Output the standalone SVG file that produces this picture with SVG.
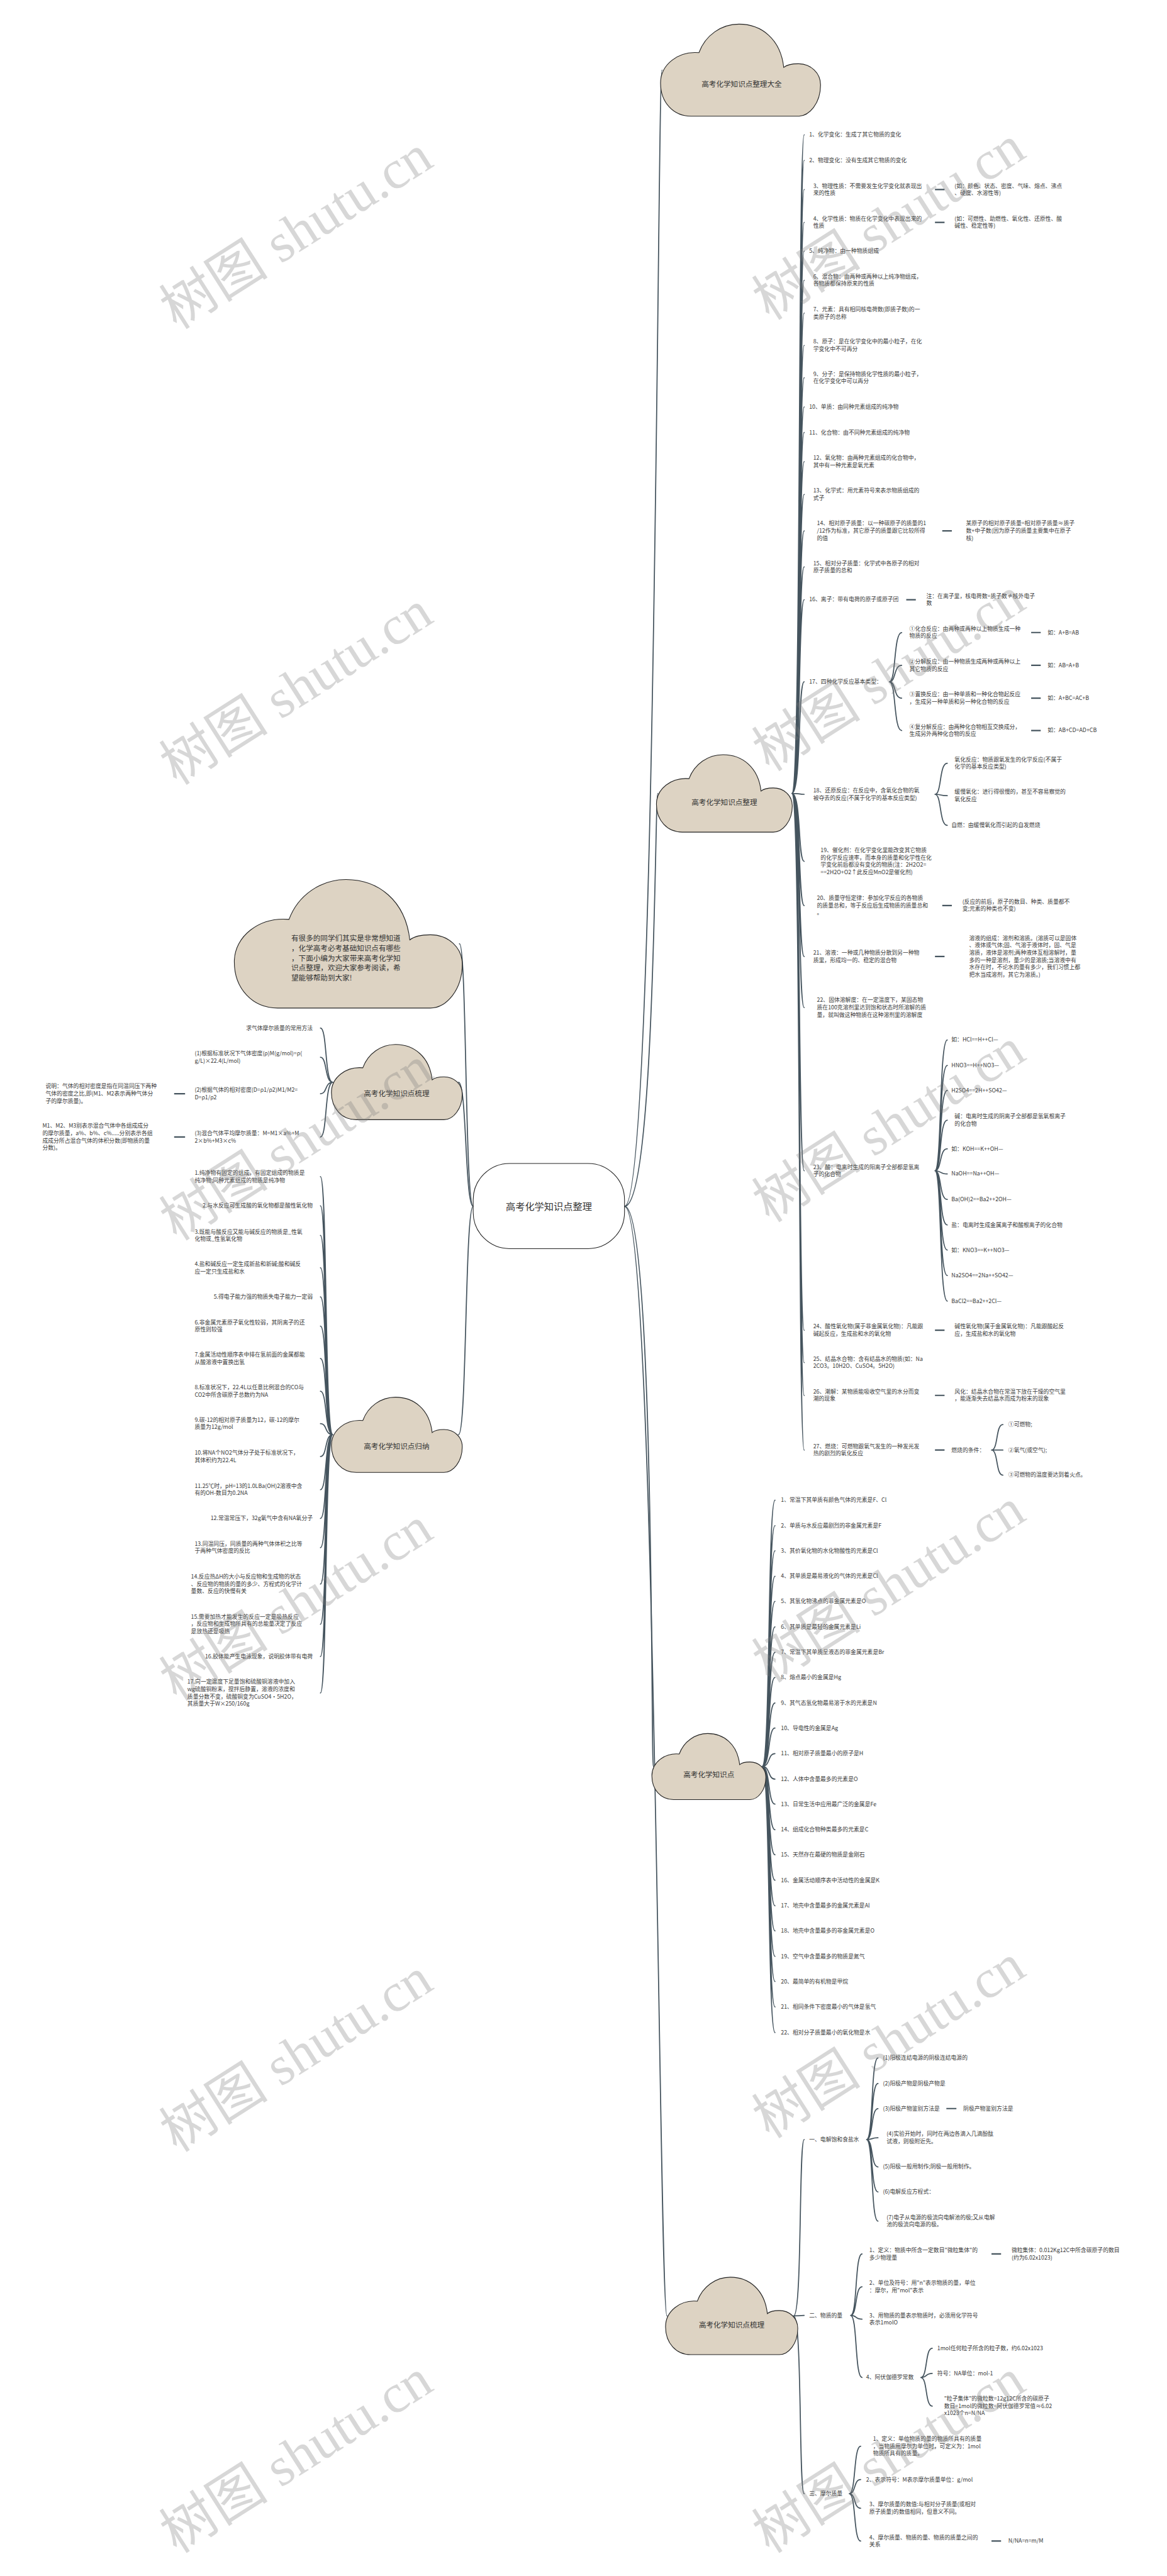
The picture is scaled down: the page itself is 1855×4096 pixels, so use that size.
<svg xmlns="http://www.w3.org/2000/svg" width="1855" height="4096" viewBox="0 0 1855 4096">
<defs>
<style>
.t{font-family:"Noto Sans CJK SC","Noto Sans",sans-serif;font-size:12.2px;fill:#3a3a3a}
.e{text-anchor:end}
.ct{font-family:"Noto Sans CJK SC","Noto Sans",sans-serif;font-size:16px;fill:#333;text-anchor:middle}
.ln{fill:none;stroke:#45545e;stroke-width:2.4;stroke-linecap:round}
.dl{fill:none;stroke:#45545e;stroke-width:3}
.wm{font-family:"Liberation Serif","Noto Sans CJK SC",serif;font-size:120px;fill:#7a7a7a;fill-opacity:.3;text-anchor:middle}
</style>
<path id="cl" d="M19,100 C8,100 0,85 0,64 C0,44 11,29 24,31 C28,12 38,0 49,0 C63,0 75,16 77,47 C79,44 82,43 86,43 C94,43 100,53 100,66 C100,86 93,100 86,100 Z" fill="#ddd3c3" stroke="#222" stroke-width="1.1" vector-effect="non-scaling-stroke"/>
</defs>
<rect width="1855" height="4096" fill="#fff"/>
<g transform="scale(0.72461)">
<g id="connectors">
<path class="ln" d="M1038,2647 C1020,2647 1024,2071 1008,2071"/>
<path class="ln" d="M1038,2647 C1020,2647 1024,2375 1006,2375"/>
<path class="ln" d="M1038,2647 C1020,2647 1024,3148 1006,3148"/>
<path class="ln" d="M1370,2647 C1440,2647 1442,154 1452,154"/>
<path class="ln" d="M1370,2647 C1438,2647 1436,1741 1443,1741"/>
<path class="ln" d="M1370,2647 C1436,2647 1428,3876 1433,3876"/>
<path class="ln" d="M1370,2647 C1440,2647 1445,5082 1463,5082"/>
<path class="ln" d="M1737,1741 C1758,1741 1750,296 1764,296 M1737,1741 C1758,1741 1750,352 1764,352 M1737,1741 C1758,1741 1750,416 1764,416 M1737,1741 C1758,1741 1750,488 1764,488 M1737,1741 C1758,1741 1750,551 1764,551 M1737,1741 C1758,1741 1750,615 1764,615 M1737,1741 C1758,1741 1750,687 1764,687 M1737,1741 C1758,1741 1750,758 1764,758 M1737,1741 C1758,1741 1750,829 1764,829 M1737,1741 C1758,1741 1750,893 1764,893 M1737,1741 C1758,1741 1750,949 1764,949 M1737,1741 C1758,1741 1750,1013 1764,1013 M1737,1741 C1758,1741 1750,1085 1764,1085 M1737,1741 C1758,1741 1750,1165 1764,1165 M1737,1741 C1758,1741 1750,1244 1764,1244 M1737,1741 C1758,1741 1750,1316 1764,1316 M1737,1741 C1758,1741 1750,1496 1764,1496 M1737,1741 C1758,1741 1750,1743 1764,1743 M1737,1741 C1758,1741 1750,1890 1764,1890 M1737,1741 C1758,1741 1750,1987 1764,1987 M1737,1741 C1758,1741 1750,2099 1764,2099 M1737,1741 C1758,1741 1750,2211 1764,2211 M1737,1741 C1758,1741 1750,2569 1764,2569 M1737,1741 C1758,1741 1750,2919 1764,2919 M1737,1741 C1758,1741 1750,2990 1764,2990 M1737,1741 C1758,1741 1750,3062 1764,3062 M1737,1741 C1758,1741 1750,3182 1764,3182"/>
<path class="ln" d="M1951,1496 C1966,1496 1960,1388 1978,1388 M1951,1496 C1966,1496 1960,1460 1978,1460 M1951,1496 C1966,1496 1960,1532 1978,1532 M1951,1496 C1966,1496 1960,1603 1978,1603"/>
<path class="ln" d="M2051,1743 C2066,1743 2060,1675 2078,1675 M2051,1743 C2066,1743 2060,1746 2078,1746 M2051,1743 C2066,1743 2060,1811 2078,1811"/>
<path class="ln" d="M2051,2569 C2066,2569 2060,2282 2078,2282 M2051,2569 C2066,2569 2060,2338 2078,2338 M2051,2569 C2066,2569 2060,2393 2078,2393 M2051,2569 C2066,2569 2060,2458 2078,2458 M2051,2569 C2066,2569 2060,2521 2078,2521 M2051,2569 C2066,2569 2060,2576 2078,2576 M2051,2569 C2066,2569 2060,2632 2078,2632 M2051,2569 C2066,2569 2060,2688 2078,2688 M2051,2569 C2066,2569 2060,2743 2078,2743 M2051,2569 C2066,2569 2060,2799 2078,2799 M2051,2569 C2066,2569 2060,2855 2078,2855"/>
<path class="ln" d="M2175,3182 C2190,3182 2184,3126 2200,3126 M2175,3182 L2200,3182 M2175,3182 C2190,3182 2184,3237 2200,3237"/>
<path class="dl" d="M2051,416 H2072 M2051,488 H2072 M2067,1165 H2088 M1988,1316 H2009 M2262,1388 H2283 M2262,1460 H2283 M2262,1532 H2283 M2262,1603 H2283 M2067,1987 H2088 M2051,2099 H2072 M2051,2919 H2072 M2051,3062 H2072 M2051,3182 H2072"/>
<path class="ln" d="M1672,3876 C1690,3876 1684,3292 1700,3292 M1672,3876 C1690,3876 1684,3348 1700,3348 M1672,3876 C1690,3876 1684,3403 1700,3403 M1672,3876 C1690,3876 1684,3459 1700,3459 M1672,3876 C1690,3876 1684,3514 1700,3514 M1672,3876 C1690,3876 1684,3570 1700,3570 M1672,3876 C1690,3876 1684,3626 1700,3626 M1672,3876 C1690,3876 1684,3681 1700,3681 M1672,3876 C1690,3876 1684,3737 1700,3737 M1672,3876 C1690,3876 1684,3792 1700,3792 M1672,3876 C1690,3876 1684,3848 1700,3848 M1672,3876 C1690,3876 1684,3904 1700,3904 M1672,3876 C1690,3876 1684,3959 1700,3959 M1672,3876 C1690,3876 1684,4015 1700,4015 M1672,3876 C1690,3876 1684,4070 1700,4070 M1672,3876 C1690,3876 1684,4126 1700,4126 M1672,3876 C1690,3876 1684,4182 1700,4182 M1672,3876 C1690,3876 1684,4237 1700,4237 M1672,3876 C1690,3876 1684,4293 1700,4293 M1672,3876 C1690,3876 1684,4348 1700,4348 M1672,3876 C1690,3876 1684,4404 1700,4404 M1672,3876 C1690,3876 1684,4460 1700,4460"/>
<path class="ln" d="M1741,5082 C1760,5082 1752,4695 1764,4695 M1741,5082 L1764,5081 M1741,5082 C1760,5082 1752,5472 1764,5472"/>
<path class="ln" d="M1901,4695 C1916,4695 1910,4516 1926,4516 M1901,4695 C1916,4695 1910,4572 1926,4572 M1901,4695 C1916,4695 1910,4627 1926,4627 M1901,4695 C1916,4695 1910,4691 1926,4691 M1901,4695 C1916,4695 1910,4755 1926,4755 M1901,4695 C1916,4695 1910,4810 1926,4810 M1901,4695 C1916,4695 1910,4874 1926,4874"/>
<path class="ln" d="M1866,5081 C1881,5081 1875,4946 1891,4946 M1866,5081 C1881,5081 1875,5018 1891,5018 M1866,5081 C1881,5081 1875,5089 1891,5089 M1866,5081 C1881,5081 1875,5217 1891,5217"/>
<path class="ln" d="M2020,5217 C2035,5217 2029,5153 2045,5153 M2020,5217 C2035,5217 2029,5208 2045,5208 M2020,5217 C2035,5217 2029,5280 2045,5280"/>
<path class="ln" d="M1863,5472 C1878,5472 1872,5368 1888,5368 M1863,5472 C1878,5472 1872,5441 1888,5441 M1863,5472 C1878,5472 1872,5504 1888,5504 M1863,5472 C1878,5472 1872,5576 1888,5576"/>
<path class="dl" d="M2076,4627 H2098 M2175,4946 H2196 M2175,5576 H2196"/>
<path class="ln" d="M730,2375 C712,2375 718,2256 703,2256 M730,2375 C712,2375 718,2320 703,2320 M730,2375 C712,2375 718,2400 703,2400 M730,2375 C712,2375 718,2495 703,2495"/>
<path class="dl" d="M382,2400 H406 M382,2495 H406"/>
<path class="ln" d="M730,3148 C712,3148 718,2582 703,2582 M730,3148 C712,3148 718,2646 703,2646 M730,3148 C712,3148 718,2711 703,2711 M730,3148 C712,3148 718,2782 703,2782 M730,3148 C712,3148 718,2846 703,2846 M730,3148 C712,3148 718,2910 703,2910 M730,3148 C712,3148 718,2981 703,2981 M730,3148 C712,3148 718,3053 703,3053 M730,3148 C712,3148 718,3124 703,3124 M730,3148 C712,3148 718,3196 703,3196 M730,3148 C712,3148 718,3269 703,3269 M730,3148 C712,3148 718,3332 703,3332 M730,3148 C712,3148 718,3396 703,3396 M730,3148 C712,3148 718,3476 703,3476 M730,3148 C712,3148 718,3564 703,3564 M730,3148 C712,3148 718,3635 703,3635 M730,3148 C712,3148 718,3715 703,3715"/>
</g>

<g id="center"><rect x="1038" y="2553" width="332" height="187" rx="80" fill="#fff" stroke="#222" stroke-width="1.5"/><text class="ct" x="1204" y="2655" style="font-size:21px">高考化学知识点整理</text></g>
<g id="cloud-top"><use href="#cl" transform="translate(1449,53) scale(3.51,2.02)"/><text class="ct" x="1627" y="190">高考化学知识点整理大全</text></g>
<g id="cloud-zl"><use href="#cl" transform="translate(1440,1656) scale(2.98,1.7)"/><text class="ct" x="1589" y="1767">高考化学知识点整理</text></g>
<g id="cloud-zsd"><use href="#cl" transform="translate(1430,3804) scale(2.5,1.45)"/><text class="ct" x="1555" y="3900">高考化学知识点</text></g>
<g id="cloud-sl2"><use href="#cl" transform="translate(1460,4997) scale(2.9,1.7)"/><text class="ct" x="1605" y="5108">高考化学知识点梳理</text></g>
<g id="cloud-intro"><use href="#cl" transform="translate(514,1930) scale(5,2.82)"/><text class="ct" style="text-anchor:start"><tspan x="639" y="2064">有很多的同学们其实是非常想知道</tspan><tspan x="639" y="2086">，化学高考必考基础知识点有哪些</tspan><tspan x="639" y="2109">，下面小编为大家带来高考化学知</tspan><tspan x="639" y="2130">识点整理，欢迎大家参考阅读，希</tspan><tspan x="639" y="2152">望能够帮助到大家!</tspan></text></g>
<g id="cloud-sl"><use href="#cl" transform="translate(727,2292) scale(2.87,1.65)"/><text class="ct" x="870" y="2406">高考化学知识点梳理</text></g>
<g id="cloud-gn"><use href="#cl" transform="translate(727,3066) scale(2.87,1.65)"/><text class="ct" x="870" y="3180">高考化学知识点归纳</text></g>

<g id="sec-a" class="t">
<text id="a1" x="1775" y="300">1、化学变化：生成了其它物质的变化</text>
<text id="a2" x="1775" y="356">2、物理变化：没有生成其它物质的变化</text>
<text id="a3"><tspan x="1784" y="412">3、物理性质：不需要发生化学变化就表现出</tspan><tspan x="1784" y="428">来的性质</tspan></text>
<text id="a3s"><tspan x="2094" y="412">(如：颜色、状态、密度、气味、熔点、沸点</tspan><tspan x="2094" y="428">、硬度、水溶性等)</tspan></text>
<text id="a4"><tspan x="1784" y="484">4、化学性质：物质在化学变化中表现出来的</tspan><tspan x="1784" y="500">性质</tspan></text>
<text id="a4s"><tspan x="2094" y="484">(如：可燃性、助燃性、氧化性、还原性、酸</tspan><tspan x="2094" y="500">碱性、稳定性等)</tspan></text>
<text id="a5" x="1775" y="555">5、纯净物：由一种物质组成</text>
<text id="a6"><tspan x="1784" y="611">6、混合物：由两种或两种以上纯净物组成，</tspan><tspan x="1784" y="627">各物质都保持原来的性质</tspan></text>
<text id="a7"><tspan x="1784" y="683">7、元素：具有相同核电荷数(即质子数)的一</tspan><tspan x="1784" y="699">类原子的总称</tspan></text>
<text id="a8"><tspan x="1784" y="754">8、原子：是在化学变化中的最小粒子，在化</tspan><tspan x="1784" y="770">学变化中不可再分</tspan></text>
<text id="a9"><tspan x="1784" y="825">9、分子：是保持物质化学性质的最小粒子，</tspan><tspan x="1784" y="841">在化学变化中可以再分</tspan></text>
<text id="a10" x="1775" y="897">10、单质：由同种元素组成的纯净物</text>
<text id="a11" x="1775" y="953">11、化合物：由不同种元素组成的纯净物</text>
<text id="a12"><tspan x="1784" y="1009">12、氧化物：由两种元素组成的化合物中，</tspan><tspan x="1784" y="1025">其中有一种元素是氧元素</tspan></text>
<text id="a13"><tspan x="1784" y="1081">13、化学式：用元素符号来表示物质组成的</tspan><tspan x="1784" y="1097">式子</tspan></text>
<text id="a14"><tspan x="1792" y="1153">14、相对原子质量：以一种碳原子的质量的1</tspan><tspan x="1792" y="1169">/12作为标准，其它原子的质量跟它比较所得</tspan><tspan x="1792" y="1185">的值</tspan></text>
<text id="a14s"><tspan x="2119" y="1153">某原子的相对原子质量=相对原子质量≈质子</tspan><tspan x="2119" y="1169">数+中子数(因为原子的质量主要集中在原子</tspan><tspan x="2119" y="1185">核)</tspan></text>
<text id="a15"><tspan x="1784" y="1240">15、相对分子质量：化学式中各原子的相对</tspan><tspan x="1784" y="1256">原子质量的总和</tspan></text>
<text id="a16" x="1775" y="1320">16、离子：带有电荷的原子或原子团</text>
<text id="a16s"><tspan x="2032" y="1312">注：在离子里，核电荷数=质子数≠核外电子</tspan><tspan x="2032" y="1328">数</tspan></text>
<text id="a17" x="1775" y="1500">17、四种化学反应基本类型：</text>
<text id="a17a"><tspan x="1995" y="1384">①化合反应：由两种或两种以上物质生成一种</tspan><tspan x="1995" y="1400">物质的反应</tspan></text>
<text id="a17b"><tspan x="1995" y="1456">②分解反应：由一种物质生成两种或两种以上</tspan><tspan x="1995" y="1472">其它物质的反应</tspan></text>
<text id="a17c"><tspan x="1995" y="1528">③置换反应：由一种单质和一种化合物起反应</tspan><tspan x="1995" y="1544">，生成另一种单质和另一种化合物的反应</tspan></text>
<text id="a17d"><tspan x="1995" y="1599">④复分解反应：由两种化合物相互交换成分，</tspan><tspan x="1995" y="1615">生成另外两种化合物的反应</tspan></text>
<text id="a17a1" x="2298" y="1392">如：A+B=AB</text>
<text id="a17b1" x="2298" y="1464">如：AB=A+B</text>
<text id="a17c1" x="2298" y="1536">如：A+BC=AC+B</text>
<text id="a17d1" x="2298" y="1607">如：AB+CD=AD+CB</text>
<text id="a18"><tspan x="1784" y="1739">18、还原反应：在反应中，含氧化合物的氧</tspan><tspan x="1784" y="1755">被夺去的反应(不属于化学的基本反应类型)</tspan></text>
<text id="a18a"><tspan x="2094" y="1671">氧化反应：物质跟氧发生的化学反应(不属于</tspan><tspan x="2094" y="1687">化学的基本反应类型)</tspan></text>
<text id="a18b"><tspan x="2094" y="1742">缓慢氧化：进行得很慢的，甚至不容易察觉的</tspan><tspan x="2094" y="1758">氧化反应</tspan></text>
<text id="a18c" x="2087" y="1815">自燃：由缓慢氧化而引起的自发燃烧</text>
<text id="a19"><tspan x="1800" y="1870">19、催化剂：在化学变化里能改变其它物质</tspan><tspan x="1800" y="1886">的化学反应速率，而本身的质量和化学性在化</tspan><tspan x="1800" y="1902">学变化前后都没有变化的物质(注：2H2O2=</tspan><tspan x="1800" y="1918">==2H2O+O2↑此反应MnO2是催化剂)</tspan></text>
<text id="a20"><tspan x="1792" y="1975">20、质量守恒定律：参加化学反应的各物质</tspan><tspan x="1792" y="1991">的质量总和，等于反应后生成物质的质量总和</tspan><tspan x="1792" y="2007">。</tspan></text>
<text id="a20s"><tspan x="2111" y="1983">(反应的前后，原子的数目、种类、质量都不</tspan><tspan x="2111" y="1999">变;元素的种类也不变)</tspan></text>
<text id="a21"><tspan x="1784" y="2095">21、溶液：一种或几种物质分散到另一种物</tspan><tspan x="1784" y="2111">质里，形成均一的、稳定的混合物</tspan></text>
<text id="a21s"><tspan x="2126" y="2063">溶液的组成：溶剂和溶质。(溶质可以是固体</tspan><tspan x="2126" y="2079">、液体或气体;固、气溶于液体时，固、气是</tspan><tspan x="2126" y="2095">溶质，液体是溶剂;两种液体互相溶解时，量</tspan><tspan x="2126" y="2111">多的一种是溶剂，量少的是溶质;当溶液中有</tspan><tspan x="2126" y="2127">水存在时，不论水的量有多少，我们习惯上都</tspan><tspan x="2126" y="2143">把水当成溶剂，其它为溶质。)</tspan></text>
<text id="a22"><tspan x="1792" y="2199">22、固体溶解度：在一定温度下，某固态物</tspan><tspan x="1792" y="2215">质在100克溶剂里达到饱和状态时所溶解的质</tspan><tspan x="1792" y="2231">量，就叫做这种物质在这种溶剂里的溶解度</tspan></text>
<text id="a23"><tspan x="1784" y="2565">23、酸：电离时生成的阳离子全部都是氢离</tspan><tspan x="1784" y="2581">子的化合物</tspan></text>
<text id="a23a" x="2087" y="2286">如：HCl==H++Cl—</text>
<text id="a23b" x="2087" y="2342">HNO3==H++NO3—</text>
<text id="a23c" x="2087" y="2397">H2SO4==2H++SO42—</text>
<text id="a23d"><tspan x="2094" y="2454">碱：电离时生成的阴离子全部都是氢氧根离子</tspan><tspan x="2094" y="2470">的化合物</tspan></text>
<text id="a23e" x="2087" y="2525">如：KOH==K++OH—</text>
<text id="a23f" x="2087" y="2580">NaOH==Na++OH—</text>
<text id="a23g" x="2087" y="2636">Ba(OH)2==Ba2++2OH—</text>
<text id="a23h" x="2087" y="2692">盐：电离时生成金属离子和酸根离子的化合物</text>
<text id="a23i" x="2087" y="2747">如：KNO3==K++NO3—</text>
<text id="a23j" x="2087" y="2803">Na2SO4==2Na++SO42—</text>
<text id="a23k" x="2087" y="2859">BaCl2==Ba2++2Cl—</text>
<text id="a24"><tspan x="1784" y="2915">24、酸性氧化物(属于非金属氧化物)：凡能跟</tspan><tspan x="1784" y="2931">碱起反应，生成盐和水的氧化物</tspan></text>
<text id="a24s"><tspan x="2094" y="2915">碱性氧化物(属于金属氧化物)：凡能跟酸起反</tspan><tspan x="2094" y="2931">应，生成盐和水的氧化物</tspan></text>
<text id="a25"><tspan x="1784" y="2986">25、结晶水合物：含有结晶水的物质(如：Na</tspan><tspan x="1784" y="3002">2CO3。10H2O、CuSO4。5H2O)</tspan></text>
<text id="a26"><tspan x="1784" y="3058">26、潮解：某物质能吸收空气里的水分而变</tspan><tspan x="1784" y="3074">潮的现象</tspan></text>
<text id="a26s"><tspan x="2094" y="3058">风化：结晶水合物在常温下放在干燥的空气里</tspan><tspan x="2094" y="3074">，能逐渐失去结晶水而成为粉末的现象</tspan></text>
<text id="a27"><tspan x="1784" y="3178">27、燃烧：可燃物跟氧气发生的一种发光发</tspan><tspan x="1784" y="3194">热的剧烈的氧化反应</tspan></text>
<text id="a27s" x="2087" y="3186">燃烧的条件：</text>
<text id="a27a" x="2212" y="3130">①可燃物;</text>
<text id="a27b" x="2212" y="3186">②氧气(或空气);</text>
<text id="a27c" x="2212" y="3241">③可燃物的温度要达到着火点。</text>
</g>

<g id="sec-b" class="t">
<text id="b1" x="1713" y="3296">1、常温下其单质有颜色气体的元素是F、Cl</text>
<text id="b2" x="1713" y="3352">2、单质与水反应最剧烈的非金属元素是F</text>
<text id="b3" x="1713" y="3407">3、其价氧化物的水化物酸性的元素是Cl</text>
<text id="b4" x="1713" y="3463">4、其单质是最易液化的气体的元素是Cl</text>
<text id="b5" x="1713" y="3518">5、其氢化物沸点的非金属元素是O</text>
<text id="b6" x="1713" y="3574">6、其单质是最轻的金属元素是Li</text>
<text id="b7" x="1713" y="3630">7、常温下其单质呈液态的非金属元素是Br</text>
<text id="b8" x="1713" y="3685">8、熔点最小的金属是Hg</text>
<text id="b9" x="1713" y="3741">9、其气态氢化物最易溶于水的元素是N</text>
<text id="b10" x="1713" y="3796">10、导电性的金属是Ag</text>
<text id="b11" x="1713" y="3852">11、相对原子质量最小的原子是H</text>
<text id="b12" x="1713" y="3908">12、人体中含量最多的元素是O</text>
<text id="b13" x="1713" y="3963">13、日常生活中应用最广泛的金属是Fe</text>
<text id="b14" x="1713" y="4019">14、组成化合物种类最多的元素是C</text>
<text id="b15" x="1713" y="4074">15、天然存在最硬的物质是金刚石</text>
<text id="b16" x="1713" y="4130">16、金属活动顺序表中活动性的金属是K</text>
<text id="b17" x="1713" y="4186">17、地壳中含量最多的金属元素是Al</text>
<text id="b18" x="1713" y="4241">18、地壳中含量最多的非金属元素是O</text>
<text id="b19" x="1713" y="4297">19、空气中含量最多的物质是氮气</text>
<text id="b20" x="1713" y="4352">20、最简单的有机物是甲烷</text>
<text id="b21" x="1713" y="4408">21、相同条件下密度最小的气体是氢气</text>
<text id="b22" x="1713" y="4464">22、相对分子质量最小的氧化物是水</text>
</g>

<g id="sec-c" class="t">
<text id="c1" x="1775" y="4699">一、电解饱和食盐水</text>
<text id="c1a" x="1937" y="4520">(1)阳极连结电源的阴极连结电源的</text>
<text id="c1b" x="1937" y="4576">(2)阳极产物是阴极产物是</text>
<text id="c1c" x="1937" y="4631">(3)阳极产物鉴别方法是</text>
<text id="c1cs" x="2113" y="4631">阴极产物鉴别方法是</text>
<text id="c1d"><tspan x="1945" y="4687">(4)实验开始时，同时在两边各滴入几滴酚酞</tspan><tspan x="1945" y="4703">试液，则极附近先。</tspan></text>
<text id="c1e" x="1937" y="4759">(5)阳极一般用制作;阴极一般用制作。</text>
<text id="c1f" x="1937" y="4814">(6)电解反应方程式：</text>
<text id="c1g"><tspan x="1945" y="4870">(7)电子从电源的极流向电解池的极;又从电解</tspan><tspan x="1945" y="4886">池的极流向电源的极。</tspan></text>
<text id="c2" x="1775" y="5085">二、物质的量</text>
<text id="c2a"><tspan x="1907" y="4942">1、定义：物质中所含一定数目"微粒集体"的</tspan><tspan x="1907" y="4958">多少物理量</tspan></text>
<text id="c2as"><tspan x="2219" y="4942">微粒集体：0.012Kg12C中所含碳原子的数目</tspan><tspan x="2219" y="4958">(约为6.02x1023)</tspan></text>
<text id="c2b"><tspan x="1907" y="5014">2、单位及符号：用"n"表示物质的量，单位</tspan><tspan x="1907" y="5030">：摩尔，用"mol"表示</tspan></text>
<text id="c2c"><tspan x="1907" y="5085">3、用物质的量表示物质时，必须用化学符号</tspan><tspan x="1907" y="5101">表示1molO</tspan></text>
<text id="c2d" x="1900" y="5221">4、阿伏伽德罗常数</text>
<text id="c2d1" x="2056" y="5157">1mol任何粒子所含的粒子数，约6.02x1023</text>
<text id="c2d2" x="2056" y="5212">符号：NA单位：mol-1</text>
<text id="c2d3"><tspan x="2071" y="5268">"粒子集体"的微粒数=12g12C所含的碳原子</tspan><tspan x="2071" y="5284">数目=1mol的微粒数=阿伏伽德罗常值≈6.02</tspan><tspan x="2071" y="5300">x1023个n=N/NA</tspan></text>
<text id="c3" x="1775" y="5476">三、摩尔质量</text>
<text id="c3a"><tspan x="1915" y="5356">1、定义：单位物质的量的物质所具有的质量</tspan><tspan x="1915" y="5372">，当物质用摩尔为单位时，可定义为：1mol</tspan><tspan x="1915" y="5388">物质所具有的质量。</tspan></text>
<text id="c3b" x="1900" y="5445">2、表示符号：M表示摩尔质量单位：g/mol</text>
<text id="c3c"><tspan x="1907" y="5500">3、摩尔质量的数值:与相对分子质量(或相对</tspan><tspan x="1907" y="5516">原子质量)的数值相同，但意义不同。</tspan></text>
<text id="c3d"><tspan x="1907" y="5572">4、摩尔质量、物质的量、物质的质量之间的</tspan><tspan x="1907" y="5588">关系</tspan></text>
<text id="c3ds" x="2212" y="5580">N/NA=n=m/M</text>
</g>

<g id="sec-d" class="t">
<text id="d0" class="t e" x="686" y="2260">求气体摩尔质量的常用方法</text>
<text id="d1"><tspan x="427" y="2316">(1)根据标准状况下气体密度(ρ)M(g/mol)=ρ(</tspan><tspan x="427" y="2332">g/L)×22.4(L/mol)</tspan></text>
<text id="d2"><tspan x="427" y="2396">(2)根据气体的相对密度(D=ρ1/ρ2)M1/M2=</tspan><tspan x="427" y="2412">D=ρ1/ρ2</tspan></text>
<text id="d2s"><tspan x="100" y="2388">说明：气体的相对密度是指在同温同压下两种</tspan><tspan x="100" y="2404">气体的密度之比,即(M1、M2表示两种气体分</tspan><tspan x="100" y="2420">子的摩尔质量)。</tspan></text>
<text id="d3"><tspan x="427" y="2491">(3)混合气体平均摩尔质量：M=M1×a%+M</tspan><tspan x="427" y="2507">2×b%+M3×c%</tspan></text>
<text id="d3s"><tspan x="93" y="2475">M1、M2、M3别表示混合气体中各组成成分</tspan><tspan x="93" y="2491">的摩尔质量，a%、b%、c%.....分别表示各组</tspan><tspan x="93" y="2507">成成分所占混合气体的体积分数(即物质的量</tspan><tspan x="93" y="2523">分数)。</tspan></text>
</g>

<g id="sec-e" class="t">
<text id="e1"><tspan x="427" y="2578">1.纯净物有固定的组成，有固定组成的物质是</tspan><tspan x="427" y="2594">纯净物;同种元素组成的物质是纯净物</tspan></text>
<text id="e2" class="t e" x="686" y="2650">2.与水反应可生成酸的氧化物都是酸性氧化物</text>
<text id="e3"><tspan x="427" y="2707">3.既能与酸反应又能与碱反应的物质是_性氧</tspan><tspan x="427" y="2723">化物或_性氢氧化物</tspan></text>
<text id="e4"><tspan x="427" y="2778">4.盐和碱反应一定生成新盐和新碱;酸和碱反</tspan><tspan x="427" y="2794">应一定只生成盐和水</tspan></text>
<text id="e5" class="t e" x="686" y="2850">5.得电子能力强的物质失电子能力一定弱</text>
<text id="e6"><tspan x="427" y="2906">6.非金属元素原子氧化性较弱，其阴离子的还</tspan><tspan x="427" y="2922">原性则较强</tspan></text>
<text id="e7"><tspan x="427" y="2977">7.金属活动性顺序表中排在氢前面的金属都能</tspan><tspan x="427" y="2993">从酸溶液中置换出氢</tspan></text>
<text id="e8"><tspan x="427" y="3049">8.标准状况下，22.4L以任意比例混合的CO与</tspan><tspan x="427" y="3065">CO2中所含碳原子总数约为NA</tspan></text>
<text id="e9"><tspan x="427" y="3120">9.碳-12的相对原子质量为12，碳-12的摩尔</tspan><tspan x="427" y="3136">质量为12g/mol</tspan></text>
<text id="e10"><tspan x="427" y="3192">10.将NA个NO2气体分子处于标准状况下，</tspan><tspan x="427" y="3208">其体积约为22.4L</tspan></text>
<text id="e11"><tspan x="427" y="3265">11.25℃时，pH=13的1.0LBa(OH)2溶液中含</tspan><tspan x="427" y="3281">有的OH-数目为0.2NA</tspan></text>
<text id="e12" class="t e" x="686" y="3336">12.常温常压下，32g氧气中含有NA氧分子</text>
<text id="e13"><tspan x="427" y="3392">13.同温同压，同质量的两种气体体积之比等</tspan><tspan x="427" y="3408">于两种气体密度的反比</tspan></text>
<text id="e14"><tspan x="419" y="3464">14.反应热ΔH的大小与反应物和生成物的状态</tspan><tspan x="419" y="3480">、反应物的物质的量的多少、方程式的化学计</tspan><tspan x="419" y="3496">量数、反应的快慢有关</tspan></text>
<text id="e15"><tspan x="419" y="3552">15.需要加热才能发生的反应一定是吸热反应</tspan><tspan x="419" y="3568">，反应物和生成物所具有的总能量决定了反应</tspan><tspan x="419" y="3584">是放热还是吸热</tspan></text>
<text id="e16" class="t e" x="686" y="3639">16.胶体能产生电泳现象，说明胶体带有电荷</text>
<text id="e17"><tspan x="411" y="3695">17.向一定温度下足量饱和硫酸铜溶液中加入</tspan><tspan x="411" y="3711">wg硫酸铜粉末，搅拌后静置，溶液的浓度和</tspan><tspan x="411" y="3727">质量分数不变，硫酸铜变为CuSO4·5H2O，</tspan><tspan x="411" y="3743">其质量大于W×250/160g</tspan></text>
</g>

<g id="watermark">
<text class="wm" transform="translate(650,510) rotate(-32.5)" y="40">树图 shutu.cn</text>
<text class="wm" transform="translate(650,1510) rotate(-32.5)" y="40">树图 shutu.cn</text>
<text class="wm" transform="translate(650,2510) rotate(-32.5)" y="40">树图 shutu.cn</text>
<text class="wm" transform="translate(650,3520) rotate(-32.5)" y="40">树图 shutu.cn</text>
<text class="wm" transform="translate(650,4510) rotate(-32.5)" y="40">树图 shutu.cn</text>
<text class="wm" transform="translate(650,5390) rotate(-32.5)" y="40">树图 shutu.cn</text>
<text class="wm" transform="translate(1950,490) rotate(-32.5)" y="40">树图 shutu.cn</text>
<text class="wm" transform="translate(1950,1480) rotate(-32.5)" y="40">树图 shutu.cn</text>
<text class="wm" transform="translate(1950,2470) rotate(-32.5)" y="40">树图 shutu.cn</text>
<text class="wm" transform="translate(1950,3480) rotate(-32.5)" y="40">树图 shutu.cn</text>
<text class="wm" transform="translate(1950,4480) rotate(-32.5)" y="40">树图 shutu.cn</text>
<text class="wm" transform="translate(1950,5390) rotate(-32.5)" y="40">树图 shutu.cn</text>
</g>
</g>
</svg>
